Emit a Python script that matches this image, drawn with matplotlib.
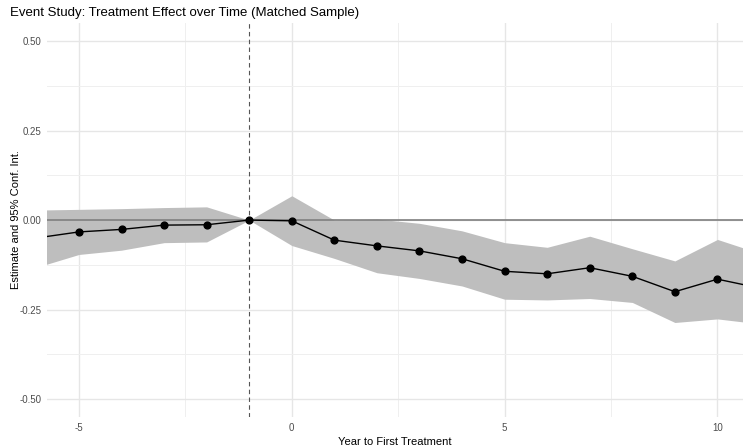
import numpy as np
import matplotlib
matplotlib.use("Agg")
from matplotlib import pyplot as plt
from matplotlib.ticker import MultipleLocator

plt.rcParams['font.family'] = ['Liberation Sans', 'DejaVu Sans']
plt.rcParams['axes.unicode_minus'] = False

# event-study estimates
years = [-6, -5, -4, -3, -2, -1, 0, 1, 2, 3, 4, 5, 6, 7, 8, 9, 10, 11]
estimate = [-0.050, -0.033, -0.026, -0.014, -0.013, 0.0, -0.002, -0.056, -0.072,
            -0.086, -0.108, -0.143, -0.150, -0.133, -0.157, -0.200, -0.165, -0.190]
ci_upper = [0.028, 0.030, 0.032, 0.035, 0.037, 0.0, 0.068, 0.0, 0.003,
            -0.009, -0.030, -0.063, -0.076, -0.045, -0.080, -0.114, -0.054, -0.093]
ci_lower = [-0.132, -0.096, -0.084, -0.063, -0.061, 0.0, -0.071, -0.107, -0.147,
            -0.163, -0.184, -0.221, -0.223, -0.219, -0.230, -0.286, -0.276, -0.290]

fig = plt.figure(figsize=(7.43, 4.46), dpi=100)
ax = fig.add_axes([0.0633, 0.065, 0.9367, 0.883])

# ggplot theme_minimal look
for s in ax.spines.values():
    s.set_visible(False)
ax.set_xlim(-5.75, 10.6)
ax.set_ylim(-0.55, 0.55)
ax.xaxis.set_major_locator(MultipleLocator(5))
ax.xaxis.set_minor_locator(MultipleLocator(2.5))
ax.yaxis.set_major_locator(MultipleLocator(0.25))
ax.yaxis.set_minor_locator(MultipleLocator(0.125))
ax.grid(which='major', color='#e6e6e6', linewidth=1.0)
ax.grid(which='minor', color='#efefef', linewidth=0.7)
ax.set_axisbelow(True)
ax.tick_params(which='both', length=0, labelsize=7, labelcolor='#4d4d4d', pad=4)
ax.yaxis.set_major_formatter(plt.FuncFormatter(lambda v, p: '%.2f' % v))

ax.fill_between(years, ci_lower, ci_upper, color='#bebebe', linewidth=0, zorder=2)
ax.axhline(0, color='#7f7f7f', linewidth=1.2, zorder=3)
ax.axvline(-1, color='#555555', linewidth=0.8, linestyle=(0, (4, 3)), zorder=3)
ax.plot(years, estimate, color='black', linewidth=1.0, zorder=4)
ax.scatter(years, estimate, s=24, color='black', zorder=5)

ax.set_xlabel('Year to First Treatment', fontsize=8, labelpad=3)
fig.text(0.021, 0.507, 'Estimate and 95% Conf. Int.', fontsize=8,
         rotation=90, ha='center', va='center')
fig.text(0.013, 0.985, 'Event Study: Treatment Effect over Time (Matched Sample)',
         fontsize=9.5, ha='left', va='top')

fig.savefig('out.png', dpi=100)
